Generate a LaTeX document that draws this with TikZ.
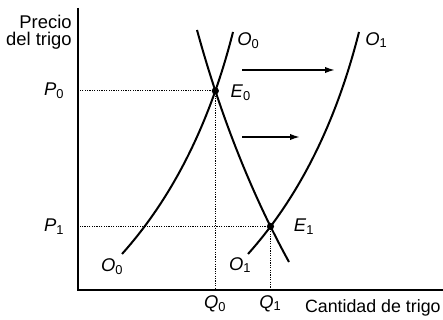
\documentclass[tikz,border=0pt]{standalone}
\usepackage{fontspec}
\setmainfont{Liberation Sans}
\usetikzlibrary{arrows.meta, positioning, intersections}
\newcommand{\vlab}[2]{\textit{#1}\textsubscript{#2}}

\begin{document}
\begin{tikzpicture}[
  x=0.5pt, y=0.5pt,
  font=\fontsize{9.2}{8.2}\selectfont,
  >=Latex,
  axis/.style={line width=1pt},
  curve/.style={line width=1pt},
  guide/.style={line width=0.5pt, dash pattern=on 0.6pt off 0.6pt},
  move/.style={-{Latex[length=5pt,width=3.2pt]}, line width=0.85pt},
  lbl/.style={inner sep=0pt},
  eq/.style={circle, fill, inner sep=0pt, minimum size=3.6pt}
]
\useasboundingbox (0,0) rectangle (443,320);

\coordinate (orig) at (78,30);
\coordinate (ytop) at (78,312);
\coordinate (xend) at (443,30);
\draw[axis] (ytop) -- (orig) -- (xend);

% demand and the two supply curves
\coordinate (dtop) at (197,290);
\coordinate (dbot) at (289,58);
\coordinate (s0top) at (233,288);
\coordinate (s0bot) at (122,66);
\coordinate (s1top) at (359,288);
\coordinate (s1bot) at (248,66);

\draw[curve, name path=dem] (dtop) .. controls (223,195) and (256,118) .. (dbot);
\draw[curve, name path=sup0] (s0bot) .. controls (173,123) and (210,197) .. (s0top);
\draw[curve, name path=sup1] (s1bot) .. controls (299,123) and (336,197) .. (s1top);

\path[name intersections={of=dem and sup0, by=E0}];
\path[name intersections={of=dem and sup1, by=E1}];

\coordinate (p0) at (E0 -| orig);
\coordinate (p1) at (E1 -| orig);
\coordinate (q0) at (E0 |- orig);
\coordinate (q1) at (E1 |- orig);

\draw[guide] (E0) -- (p0);
\draw[guide] (E0) -- (q0);
\draw[guide] (E1) -- (p1);
\draw[guide] (E1) -- (q1);

\node[eq] (e0dot) at (E0) {};
\node[eq] (e1dot) at (E1) {};

% shift arrows
\coordinate (a1s) at (242,250);
\coordinate (a1e) at (335,250);
\coordinate (a2s) at (242,183);
\coordinate (a2e) at (300,183);
\draw[move] (a1s) -- (a1e);
\draw[move] (a2s) -- (a2e);

% labels
\node[lbl, align=right, anchor=north east] (ylab) at (72,305) {Precio\\del trigo};
\node[lbl, anchor=base east, font=\fontsize{8.9}{8}\selectfont] (xlab) at (441,7) {Cantidad de trigo};

\node[lbl, left=6.5pt of p0] (p0lab) {\vlab{P}{0}};
\node[lbl, left=6.5pt of p1] (p1lab) {\vlab{P}{1}};
\node[lbl, below=2.5pt of q0] (q0lab) {\vlab{Q}{0}};
\node[lbl, below=2.5pt of q1] (q1lab) {\vlab{Q}{1}};

\node[lbl, right=5.5pt of e0dot, yshift=-1pt] (e0lab) {\vlab{E}{0}};
\node[lbl, right=9.5pt of e1dot] (e1lab) {\vlab{E}{1}};

\node[lbl, anchor=north west] (o0top) at ([xshift=2pt]s0top) {\vlab{O}{0}};
\node[lbl, anchor=north west] (o1top) at ([xshift=3pt]s1top) {\vlab{O}{1}};
\node[lbl, anchor=north east] (o0bot) at ([xshift=1pt,yshift=-2pt]s0bot) {\vlab{O}{0}};
\node[lbl, anchor=north east] (o1bot) at ([xshift=2pt,yshift=-1.5pt]s1bot) {\vlab{O}{1}};

\end{tikzpicture}
\end{document}
